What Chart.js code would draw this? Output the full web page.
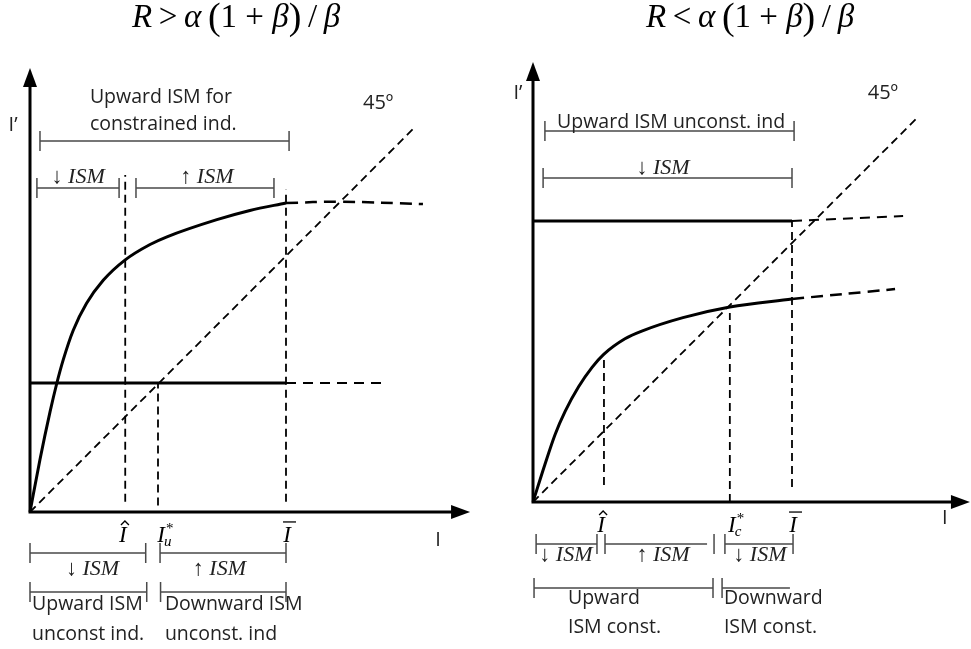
<!DOCTYPE html>
<html><head><meta charset="utf-8">
<script src="https://cdn.jsdelivr.net/npm/chart.js@4.4.1/dist/chart.umd.min.js"></script>
<style>
html,body{margin:0;padding:0;background:#fff;}
#wrap{position:relative;width:971px;height:649px;overflow:hidden;background:#fff;}
.pane{position:absolute;top:0;width:485px;height:649px;}
</style></head><body>
<div id="wrap">
<div class="pane" style="left:0"><canvas id="cL" width="485" height="649"></canvas></div>
<div class="pane" style="left:486px"><canvas id="cR" width="485" height="649"></canvas></div>
</div>
<script>
// ================= DATA (units: I-bar = 10) =================
// Left panel: R > alpha(1+beta)/beta
const leftCurveX = [0, 0.39, 0.78, 1.04, 1.30, 1.69, 2.21, 2.86, 3.72, 4.69, 5.35, 7.30, 8.59, 10];
const leftCurveY = [0, 2.05, 3.90, 5.00, 5.95, 7.10, 8.15, 9.05, 9.85, 10.45, 10.75, 11.42, 11.78, 12.07];
const leftCurveExtX = [10, 12.1, 15.35];
const leftCurveExtY = [12.07, 12.12, 12.03];
const leftLevel = 5.04;
const leftLevelExtX = [10, 13.98];
const leftLevelExtY = [5.04, 5.04];
const leftMarkX = [3.72, 5.0, 10];
const leftMarkTop = [13.16, 5.04, 12.6];
const leftMarkBottom = [0.4, 0.25, 0.4];
const leftMarkLabels = ['hat', 'star-u', 'bar'];
const leftDiagEnd = 14.96;

// Right panel: R < alpha(1+beta)/beta
const rightCurveX = [0, 0.46, 0.85, 1.24, 1.76, 2.28, 2.73, 3.55, 4.2, 5.79, 7.6, 10];
const rightCurveY = [0, 1.45, 2.60, 3.50, 4.45, 5.20, 5.70, 6.30, 6.60, 7.12, 7.53, 7.84];
const rightCurveExtX = [10, 13.98];
const rightCurveExtY = [7.84, 8.22];
const rightLevel = 10.85;
const rightLevelExtX = [10, 14.29];
const rightLevelExtY = [10.85, 11.04];
const rightMarkX = [2.74, 7.6, 10];
const rightMarkTop = [5.6, 7.3, 10.85];
const rightMarkBottom = [0.66, 0, 0.58];
const rightMarkLabels = ['hat', 'star-c', 'bar'];
const rightDiagEnd = 14.9;

// ================= LAYOUT / ANNOTATIONS =================
const LEFT = {
  curveX: leftCurveX, curveY: leftCurveY, extX: leftCurveExtX, extY: leftCurveExtY,
  level: leftLevel, levelExtX: leftLevelExtX, levelExtY: leftLevelExtY,
  markX: leftMarkX, markTop: leftMarkTop, markBottom: leftMarkBottom, markLabels: leftMarkLabels,
  markLabelX: [3.63, 5.12, 10.04], markLabelY: -1.17,
  diagEnd: leftDiagEnd, xTip: 17.19, yTip: 17.34,
  padding: {left: 30, right: 45.4, top: 102.4, bottom: 137},
  title: [['R',1],['\u2009>\u2009',0],['α',1],['\u2009',0],['(',0,1.15],['1 + ',0],['β',1],[')',0,1.15],['\u2009/\u2009',0],['β',1]],
  titleAt: [8.05, 18.95],
  brackets: [
    [0.39, 10.12, 14.49, 1, 1],
    [0.27, 3.48, 12.66, 1, 1],
    [4.14, 9.53, 12.66, 1, 1],
    [0, 4.52, -1.60, 1, 1],
    [5.08, 10, -1.60, 1, 1],
    [0, 4.56, -3.125, 1, 1],
    [5.1, 10, -3.125, 1, 1]
  ],
  texts: [
    ['Upward ISM for', 2.34, 16.21, 'left', 'sans'],
    ['constrained ind.', 2.34, 15.12, 'left', 'sans'],
    ['↓ ISM', 1.88, 13.09, 'center', 'ism'],
    ['↑ ISM', 6.91, 13.09, 'center', 'ism'],
    ['45º', 13.6, 15.98, 'center', 'deg'],
    ['I’', -0.66, 15.12, 'center', 'axis'],
    ['I', 15.94, -1.09, 'center', 'axis'],
    ['↓ ISM', 2.44, -2.23, 'center', 'ism'],
    ['↑ ISM', 7.4, -2.23, 'center', 'ism'],
    ['Upward ISM', 0.08, -3.63, 'left', 'sans'],
    ['unconst ind.', 0.08, -4.77, 'left', 'sans'],
    ['Downward ISM', 5.27, -3.63, 'left', 'sans'],
    ['unconst. ind', 5.27, -4.77, 'left', 'sans']
  ]
};
const RIGHT = {
  curveX: rightCurveX, curveY: rightCurveY, extX: rightCurveExtX, extY: rightCurveExtY,
  level: rightLevel, levelExtX: rightLevelExtX, levelExtY: rightLevelExtY,
  markX: rightMarkX, markTop: rightMarkTop, markBottom: rightMarkBottom, markLabels: rightMarkLabels,
  markLabelX: [2.63, 7.68, 10.04], markLabelY: -1.16,
  diagEnd: rightDiagEnd, xTip: 16.87, yTip: 16.99,
  padding: {left: 47, right: 23.6, top: 87.6, bottom: 147},
  title: [['R',1],['\u2009<\u2009',0],['α',1],['\u2009',0],['(',0,1.15],['1 + ',0],['β',1],[')',0,1.15],['\u2009/\u2009',0],['β',1]],
  titleAt: [8.38, 18.34],
  brackets: [
    [0.46, 10.08, 14.32, 1, 1],
    [0.39, 10, 12.51, 1, 1],
    [0.12, 2.47, -1.62, 1, 1],
    [2.78, 6.72, -1.62, 1, 0],
    [6.99, 6.99, -1.62, 1, 0],
    [7.41, 10.04, -1.62, 1, 1],
    [0.04, 6.95, -3.32, 1, 1],
    [7.3, 9.92, -3.32, 1, 0]
  ],
  texts: [
    ['Upward ISM unconst. ind', 0.93, 14.67, 'left', 'sans'],
    ['↓ ISM', 5.02, 12.9, 'center', 'ism'],
    ['45º', 13.51, 15.79, 'center', 'deg'],
    ['I’', -0.58, 15.79, 'center', 'axis'],
    ['I', 15.9, -0.62, 'center', 'axis'],
    ['↓ ISM', 1.27, -2.05, 'center', 'ism'],
    ['↑ ISM', 5.02, -2.05, 'center', 'ism'],
    ['↓ ISM', 8.76, -2.05, 'center', 'ism'],
    ['Upward', 1.35, -3.71, 'left', 'sans'],
    ['ISM const.', 1.35, -4.86, 'left', 'sans'],
    ['Downward', 7.37, -3.71, 'left', 'sans'],
    ['ISM const.', 7.37, -4.86, 'left', 'sans']
  ]
};

const FONTS = {
  sans: '19.5px "Open Sans"',
  ism: 'italic 22px "Liberation Serif"',
  deg: '20px "Open Sans"',
  axis: '20px "Open Sans"'
};

function sketchPlugin(P) {
  return {
    id: 'sketch',
    afterDraw(chart) {
      const ctx = chart.ctx, xs = chart.scales.x, ys = chart.scales.y;
      const X = v => xs.getPixelForValue(v), Y = v => ys.getPixelForValue(v);
      ctx.save();
      // axes with arrowheads
      const ox = X(0), oy = Y(0), tx = X(P.xTip), ty = Y(P.yTip);
      ctx.strokeStyle = '#000'; ctx.fillStyle = '#000'; ctx.lineWidth = 3; ctx.setLineDash([]);
      ctx.beginPath();
      ctx.moveTo(ox, oy + 1.5); ctx.lineTo(ox, ty + 14);
      ctx.moveTo(ox - 1.5, oy); ctx.lineTo(tx - 14, oy);
      ctx.stroke();
      ctx.beginPath(); ctx.moveTo(ox, ty); ctx.lineTo(ox - 7, ty + 19); ctx.lineTo(ox + 7, ty + 19); ctx.closePath(); ctx.fill();
      ctx.beginPath(); ctx.moveTo(tx, oy); ctx.lineTo(tx - 19, oy - 7); ctx.lineTo(tx - 19, oy + 7); ctx.closePath(); ctx.fill();
      // brackets
      ctx.strokeStyle = '#4a4a4a'; ctx.lineWidth = 1.5;
      P.brackets.forEach(([a, b, v, lt, rt]) => {
        const y = Y(v), xa = X(a), xb = X(b);
        ctx.beginPath();
        if (b > a) { ctx.moveTo(xa, y); ctx.lineTo(xb, y); }
        if (lt) { ctx.moveTo(xa, y - 10); ctx.lineTo(xa, y + 10); }
        if (rt) { ctx.moveTo(xb, y - 10); ctx.lineTo(xb, y + 10); }
        ctx.stroke();
      });
      // texts
      ctx.fillStyle = '#222'; ctx.textBaseline = 'middle';
      P.texts.forEach(([t, u, v, align, kind]) => {
        ctx.font = FONTS[kind]; ctx.textAlign = align;
        ctx.fillText(t, X(u), Y(v));
      });
      // mark labels on x axis
      ctx.fillStyle = '#000'; ctx.strokeStyle = '#000';
      P.markLabels.forEach((kind, i) => {
        const cx = X(P.markLabelX[i]), by = Y(P.markLabelY);
        ctx.font = 'italic 23px "Liberation Serif"'; ctx.textAlign = 'center'; ctx.textBaseline = 'alphabetic';
        ctx.fillText('I', cx, by);
        const w = ctx.measureText('I').width;
        ctx.lineWidth = 1.3;
        if (kind === 'hat') {
          ctx.beginPath(); ctx.moveTo(cx - 2, by - 17); ctx.lineTo(cx + 2, by - 21); ctx.lineTo(cx + 6, by - 17); ctx.stroke();
        } else if (kind === 'bar') {
          ctx.beginPath(); ctx.moveTo(cx - 4, by - 20); ctx.lineTo(cx + 9, by - 20); ctx.stroke();
        } else {
          ctx.textAlign = 'left';
          ctx.font = '15px "Liberation Serif"';
          ctx.fillText('*', cx + w / 2 + 1, by - 9);
          ctx.font = 'italic 15px "Liberation Serif"';
          ctx.fillText(kind === 'star-u' ? 'u' : 'c', cx + w / 2 - 1, by + 4);
        }
      });
      // title (math)
      const size = 33;
      let total = 0; const widths = [];
      P.title.forEach(([t, it, sc]) => {
        ctx.font = (it ? 'italic ' : '') + Math.round(size * (sc || 1)) + 'px "Liberation Serif"';
        const w = ctx.measureText(t).width; widths.push(w); total += w;
      });
      let x = X(P.titleAt[0]) - total / 2; const base = Y(P.titleAt[1]);
      ctx.textAlign = 'left'; ctx.textBaseline = 'alphabetic'; ctx.fillStyle = '#000';
      P.title.forEach(([t, it, sc], i) => {
        ctx.font = (it ? 'italic ' : '') + Math.round(size * (sc || 1)) + 'px "Liberation Serif"';
        ctx.fillText(t, x, base + (sc ? 2 : 0));
        x += widths[i];
      });
      ctx.restore();
    }
  };
}

function buildPanel(id, P) {
  const base = {borderColor: '#000', pointRadius: 0, showLine: true, fill: false, clip: false};
  const pts = (xs, ys) => xs.map((x, i) => ({x, y: ys[i]}));
  const datasets = [
    {...base, data: pts(P.curveX, P.curveY), borderWidth: 3, cubicInterpolationMode: 'monotone'},
    {...base, data: pts(P.extX, P.extY), borderWidth: 2.5, borderDash: [12, 7], tension: 0.4},
    {...base, data: [{x: 0, y: P.level}, {x: P.markX[2], y: P.level}], borderWidth: 3},
    {...base, data: pts(P.levelExtX, P.levelExtY), borderWidth: 2, borderDash: [10, 7]},
    {...base, data: [{x: 0, y: 0}, {x: P.diagEnd, y: P.diagEnd}], borderWidth: 1.8, borderDash: [8, 5]}
  ];
  P.markX.forEach((x, i) => datasets.push({...base, data: [{x, y: P.markBottom[i]}, {x, y: P.markTop[i]}], borderWidth: 1.8, borderDash: [8, 5]}));
  new Chart(document.getElementById(id), {
    type: 'scatter',
    data: {datasets},
    options: {
      responsive: false, devicePixelRatio: 1, animation: false,
      layout: {padding: P.padding},
      plugins: {legend: {display: false}, tooltip: {enabled: false}, title: {display: false}},
      scales: {
        x: {type: 'linear', min: 0, max: 16, display: false},
        y: {type: 'linear', min: 0, max: 16, display: false}
      }
    },
    plugins: [sketchPlugin(P)]
  });
}

buildPanel('cL', LEFT);
buildPanel('cR', RIGHT);
</script>
</body></html>
